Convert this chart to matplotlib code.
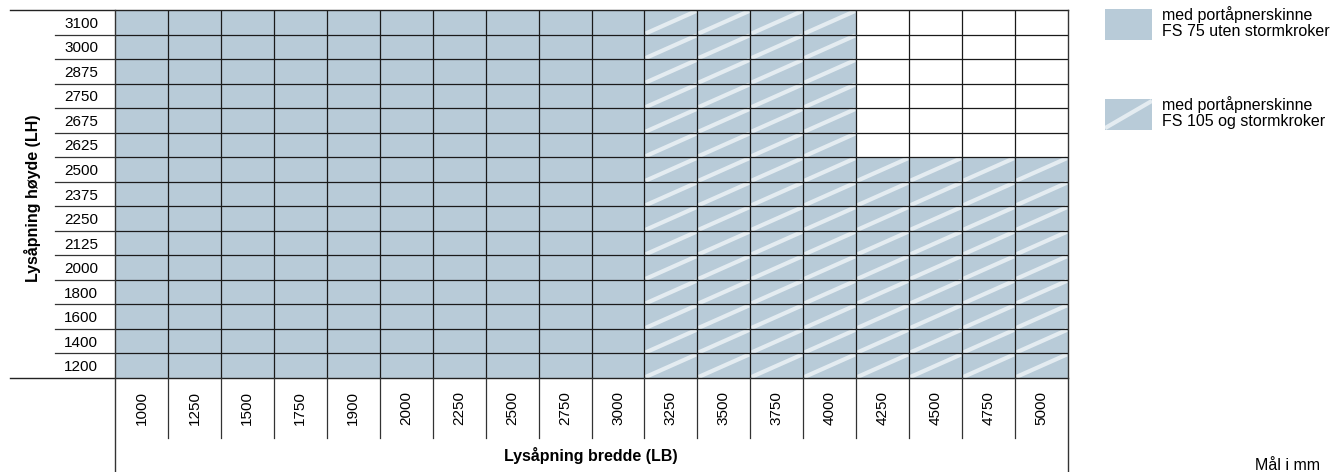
import numpy as np
import matplotlib.pyplot as plt
from matplotlib.patches import Rectangle
import matplotlib.transforms as mtransforms

plt.rcParams['font.family'] = ['Liberation Sans', 'DejaVu Sans']

# -----------------------
# Data
# -----------------------
widths = [1000, 1250, 1500, 1750, 1900, 2000, 2250, 2500, 2750, 3000,
          3250, 3500, 3750, 4000, 4250, 4500, 4750, 5000]
heights = [1200, 1400, 1600, 1800, 2000, 2125, 2250, 2375, 2500,
           2625, 2675, 2750, 2875, 3000, 3100]
# max height per width for FS 75 (solid) and FS 105 (hatched)
max_fs75 = [3100] * 10 + [0] * 8
max_fs105 = [0] * 10 + [3100] * 4 + [2500] * 4

legend_labels = ["med portåpnerskinne\nFS 75 uten stormkroker",
                 "med portåpnerskinne\nFS 105 og stormkroker"]

fill_col = "#b8cbd8"
stripe_col = "#e4ecf1"
line_col = "#1a1a1a"

W, H = 1342, 472
fig = plt.figure(figsize=(W / 100, H / 100), dpi=100)

# grid area in pixels
gx0, gx1, gy0, gy1 = 115, 1068, 10, 378
ax = fig.add_axes([gx0 / W, 1 - gy1 / H, (gx1 - gx0) / W, (gy1 - gy0) / H])
ax.set_xlim(0, len(widths))
ax.set_ylim(0, len(heights))
for s in ax.spines.values():
    s.set_visible(False)

# -----------------------
# Cells
# -----------------------
for i, w in enumerate(widths):
    for j, h in enumerate(heights):
        if h <= max_fs75[i]:
            ax.add_patch(Rectangle((i, j), 1, 1, facecolor=fill_col, lw=0))
        elif h <= max_fs105[i]:
            ax.add_patch(Rectangle((i, j), 1, 1, facecolor=fill_col, lw=0))
            ax.plot([i + 0.02, i + 0.98], [j + 0.04, j + 0.96],
                    color=stripe_col, lw=3.0, solid_capstyle="butt")

# grid lines
for j in range(1, len(heights)):
    ax.axhline(j, color=line_col, lw=0.9)
for i in range(1, len(widths)):
    ax.axvline(i, color=line_col, lw=0.9)

# lines that run outside the grid
blend_y = mtransforms.blended_transform_factory(fig.transFigure, ax.transData)
blend_x = mtransforms.blended_transform_factory(ax.transData, fig.transFigure)
for j in range(1, len(heights)):
    ax.plot([55 / W, gx0 / W], [j, j], color="#333333", lw=0.9,
            transform=blend_y, clip_on=False)
for j in [0, len(heights)]:
    ax.plot([10 / W, gx1 / W], [j, j], color="#222222", lw=1.0,
            transform=blend_y, clip_on=False)
for i in range(1, len(widths)):
    ax.plot([i, i], [1 - gy1 / H, 1 - 438 / H], color="#333333", lw=0.9,
            transform=blend_x, clip_on=False)
for i in [0, len(widths)]:
    ax.plot([i, i], [0, 1 - gy0 / H], color="#333333", lw=1.0,
            transform=blend_x, clip_on=False)

# tick labels
ax.set_yticks(np.arange(len(heights)) + 0.5)
ax.set_yticklabels([str(h) for h in heights], fontsize=11)
ax.set_xticks([])
ax.tick_params(axis="y", length=0, pad=12)
for i, w in enumerate(widths):
    ax.text(i + 0.5, 1 - 408 / H, str(w), rotation=90, ha="center",
            va="center", fontsize=11, transform=blend_x)

fig.text(591 / W, 1 - 455 / H, "Lysåpning bredde (LB)", ha="center",
         va="center", fontsize=11.5, fontweight="bold")
fig.text(33 / W, 1 - 198 / H, "Lysåpning høyde (LH)", ha="center",
         va="center", rotation=90, fontsize=11.5, fontweight="bold")

# -----------------------
# Legend
# -----------------------
lx0, lx1 = 1105, 1152
for k, (ytop, label) in enumerate(zip([9, 99], legend_labels)):
    lax = fig.add_axes([lx0 / W, 1 - (ytop + 31) / H, (lx1 - lx0) / W, 31 / H])
    lax.set_xlim(0, 1)
    lax.set_ylim(0, 1)
    lax.axis("off")
    lax.add_patch(Rectangle((0, 0), 1, 1, facecolor=fill_col, lw=0))
    if k == 1:
        lax.plot([0, 1], [0.06, 0.94], color=stripe_col, lw=3.0,
                 solid_capstyle="butt")
    fig.text(1162 / W, 1 - (ytop - 3) / H, label, ha="left", va="top",
             fontsize=11.5, linespacing=1.1)

fig.text(1255 / W, 1 - 458 / H, "Mål i mm", ha="left", va="top",
         fontsize=11.5)

fig.savefig("out.png", dpi=100)
